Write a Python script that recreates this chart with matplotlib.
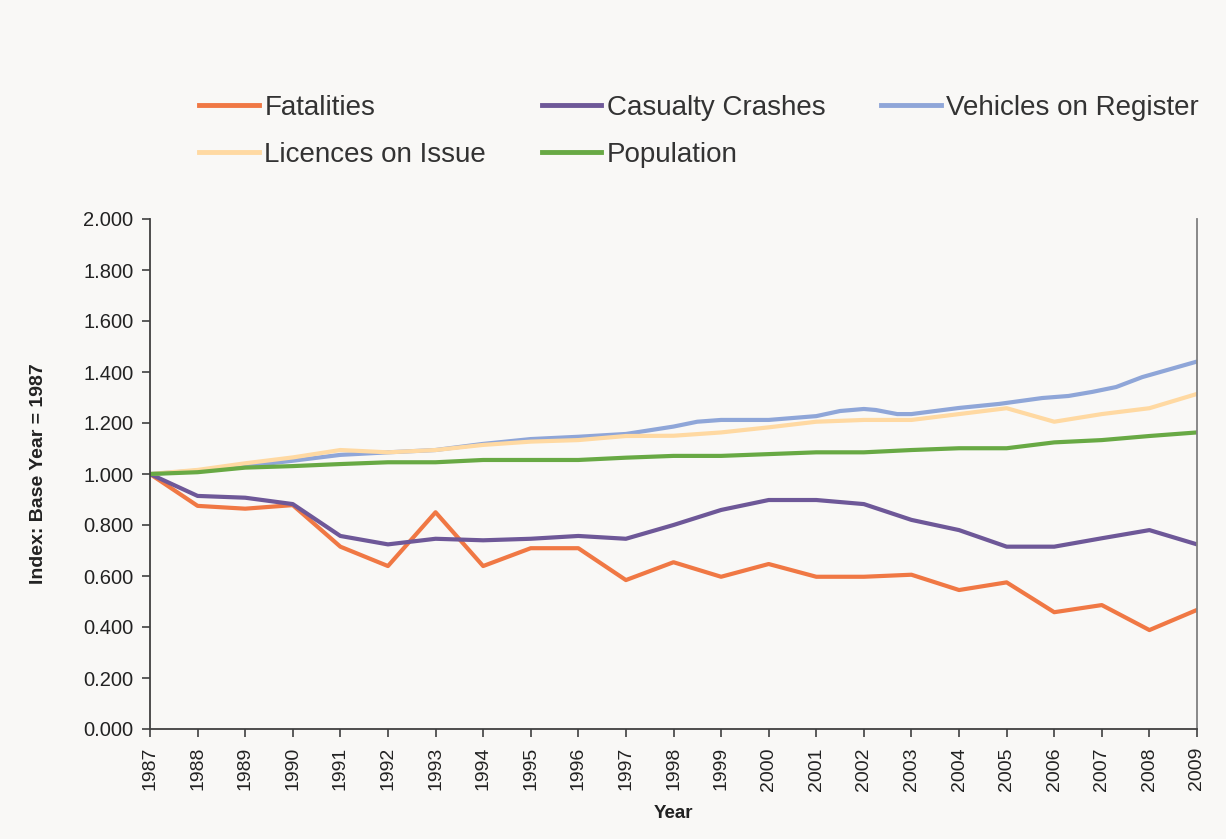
import matplotlib
matplotlib.use("Agg")
import matplotlib.pyplot as plt
from matplotlib.ticker import FixedLocator

plt.rcParams['font.family'] = ['Liberation Sans', 'DejaVu Sans']

years = list(range(1987, 2010))

fatalities = [1.000, 0.875, 0.864, 0.878, 0.715, 0.639, 0.850, 0.639, 0.709, 0.709,
              0.584, 0.654, 0.597, 0.647, 0.597, 0.597, 0.605, 0.545, 0.575, 0.458,
              0.486, 0.388, 0.467]
casualty_crashes = [1.000, 0.914, 0.907, 0.882, 0.757, 0.724, 0.746, 0.740, 0.746, 0.757,
                    0.746, 0.800, 0.859, 0.898, 0.898, 0.882, 0.820, 0.780, 0.715, 0.715,
                    0.748, 0.780, 0.724]
licences = [1.000, 1.016, 1.042, 1.065, 1.094, 1.085, 1.094, 1.114, 1.127, 1.133,
            1.149, 1.150, 1.163, 1.183, 1.205, 1.212, 1.212, 1.235, 1.258, 1.205,
            1.235, 1.258, 1.314]
population = [1.000, 1.007, 1.025, 1.031, 1.039, 1.046, 1.046, 1.055, 1.055, 1.055,
              1.064, 1.071, 1.071, 1.078, 1.085, 1.085, 1.094, 1.101, 1.101, 1.124,
              1.133, 1.149, 1.163]
# Vehicles on Register has extra (part-year) observations
vehicles_x = [1987, 1988, 1989, 1990, 1991, 1992, 1993, 1994, 1995, 1996, 1997, 1998,
              1998.5, 1999, 2000, 2001, 2001.5, 2002, 2002.25, 2002.7, 2003, 2004,
              2004.85, 2005.75, 2006.3, 2006.8, 2007.3, 2007.85, 2009]
vehicles = [1.000, 1.013, 1.031, 1.052, 1.075, 1.085, 1.094, 1.118, 1.137, 1.146, 1.157,
            1.186, 1.205, 1.212, 1.212, 1.227, 1.247, 1.255, 1.251, 1.235, 1.235, 1.259,
            1.275, 1.298, 1.306, 1.322, 1.341, 1.380, 1.441]

y_ticks = [0.0, 0.2, 0.4, 0.6, 0.8, 1.0, 1.2, 1.4, 1.6, 1.8, 2.0]

c_fat = '#F07844'
c_cas = '#6E5898'
c_veh = '#8FA6D8'
c_lic = '#FFD9A2'
c_pop = '#68A944'
bg = '#F9F8F6'

fig = plt.figure(figsize=(12.26, 8.39), dpi=100, facecolor=bg)
ax = fig.add_axes([150/1226, 1-729/839, (1197-150)/1226, (729-219)/839])
ax.set_facecolor(bg)

lw = 3.0
l1, = ax.plot(years, fatalities, color=c_fat, lw=lw, label='Fatalities')
l2, = ax.plot(years, casualty_crashes, color=c_cas, lw=lw, label='Casualty Crashes')
l3, = ax.plot(vehicles_x, vehicles, color=c_veh, lw=lw, label='Vehicles on Register')
l4, = ax.plot(years, licences, color=c_lic, lw=lw, label='Licences on Issue')
l5, = ax.plot(years, population, color=c_pop, lw=lw, label='Population')

ax.set_xlim(1987, 2009)
ax.set_ylim(0, 2.0)
ax.xaxis.set_major_locator(FixedLocator(years))
ax.set_xticklabels([str(y) for y in years], rotation=90, fontsize=14, color='#222222')
ax.yaxis.set_major_locator(FixedLocator(y_ticks))
ax.set_yticklabels([f'{v:.3f}' for v in y_ticks], fontsize=14.5, color='#222222')

ax.spines['top'].set_visible(False)
ax.spines['left'].set_color('#404040')
ax.spines['bottom'].set_color('#404040')
ax.spines['right'].set_color('#808080')
for s in ['left', 'bottom', 'right']:
    ax.spines[s].set_linewidth(1.3)
ax.tick_params(axis='both', direction='out', length=6, width=1.2, color='#404040')
ax.tick_params(axis='x', pad=7)
ax.tick_params(axis='y', pad=6)

ax.set_xlabel('Year', fontsize=13.5, fontweight='bold', color='#222222', labelpad=10)
ax.set_ylabel('Index: Base Year = 1987', fontsize=14, fontweight='bold', color='#222222', labelpad=26)

# order so that rows read: Fatalities, Casualty Crashes, Vehicles / Licences, Population
handles = [l1, l4, l2, l5, l3]
leg = fig.legend(handles=handles, labels=[h.get_label() for h in handles],
                 ncol=3, loc='upper left', bbox_to_anchor=(199/1226, 1-95/839),
                 frameon=False, fontsize=20, handlelength=2.15, handletextpad=0.2,
                 columnspacing=2.0, labelspacing=0.74, borderpad=0, borderaxespad=0)
for t in leg.get_texts():
    t.set_color('#333333')
for h in leg.legend_handles:
    h.set_linewidth(3.5)

fig.savefig('out.png', dpi=100, facecolor=bg)
